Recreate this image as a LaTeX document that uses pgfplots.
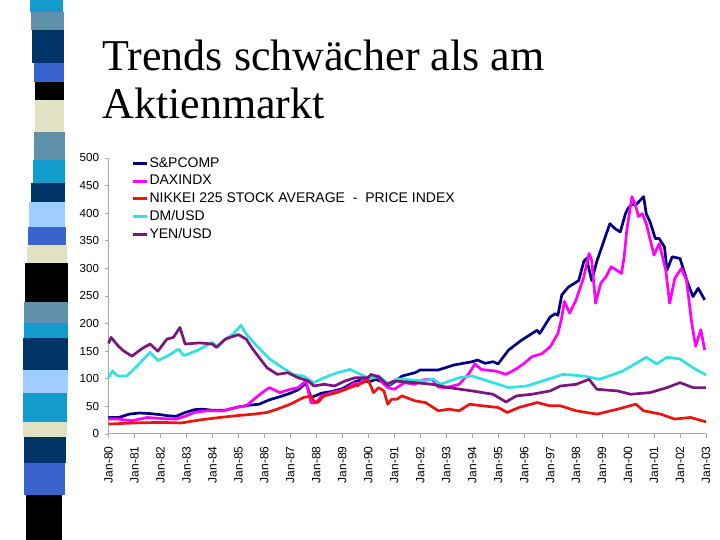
\documentclass[border=0pt]{standalone}
\usepackage{fontspec}
\setmainfont{Liberation Sans}
\newfontfamily\titlefont{Liberation Serif}
\usepackage{pgfplots}
\pgfplotsset{compat=1.18}
\definecolor{cSP}{RGB}{0,0,128}
\definecolor{cDAX}{RGB}{255,0,255}
\definecolor{cNIK}{RGB}{235,20,15}
\definecolor{cDM}{RGB}{50,225,225}
\definecolor{cYEN}{RGB}{125,20,125}
\definecolor{rA}{RGB}{20,155,205}
\definecolor{rB}{RGB}{95,145,170}
\definecolor{rC}{RGB}{0,52,102}
\definecolor{rD}{RGB}{58,100,205}
\definecolor{rE}{RGB}{225,225,195}
\definecolor{rF}{RGB}{160,205,255}
\definecolor{axgray}{RGB}{165,165,165}
\newcommand{\seg}[5]{\fill[#1] (#4*0.5pt,270pt-#2*0.5pt) rectangle (#5*0.5pt,270pt-#3*0.5pt);}
\begin{document}
\begin{tikzpicture}
\path[use as bounding box,fill=white] (0,0) rectangle (360pt,270pt);
% decorative ribbon
\seg{rA}{0}{12}{30}{63}
\seg{rB}{12}{30}{31}{64}
\seg{rC}{30}{63}{32}{64}
\seg{rD}{63}{82}{34}{64}
\seg{black}{82}{100}{35}{64}
\seg{rE}{100}{132}{35}{64}
\seg{rB}{132}{160}{34}{65}
\seg{rA}{160}{183}{33}{65}
\seg{rC}{183}{202}{31}{65}
\seg{rF}{202}{227}{29}{65}
\seg{rD}{227}{245}{28}{66}
\seg{rE}{245}{263}{27}{67}
\seg{black}{263}{302}{25}{68}
\seg{rB}{302}{323}{24}{68}
\seg{rA}{323}{338}{24}{68}
\seg{rC}{338}{370}{23}{68}
\seg{rF}{370}{393}{23}{68}
\seg{rA}{393}{422}{23}{67}
\seg{rE}{422}{437}{23}{67}
\seg{rC}{437}{463}{24}{66}
\seg{rD}{463}{495}{24}{65}
\seg{black}{495}{540}{26}{62}
% title
\node[anchor=base west,inner sep=0pt,font=\titlefont\fontsize{22}{24}\selectfont] at (51pt,234.5pt) {Trends schwächer als am};
\node[anchor=base west,inner sep=0pt,font=\titlefont\fontsize{22}{24}\selectfont] at (51pt,210.5pt) {Aktienmarkt};
\begin{axis}[
  at={(54.25pt,53pt)}, anchor=south west,
  scale only axis, width=298.75pt, height=138pt,
  xmin=1980, xmax=2003, ymin=0, ymax=500,
  axis x line=bottom, axis y line=left,
  axis line style={axgray,line width=0.5pt,-},
  tick style={axgray,line width=0.4pt},
  tick align=outside, major tick length=2pt,
  xtick={1980,1981,...,2003},
  xticklabels={Jan-80,Jan-81,Jan-82,Jan-83,Jan-84,Jan-85,Jan-86,Jan-87,Jan-88,Jan-89,Jan-90,Jan-91,Jan-92,Jan-93,Jan-94,Jan-95,Jan-96,Jan-97,Jan-98,Jan-99,Jan-00,Jan-01,Jan-02,Jan-03},
  ytick={0,50,...,500},
  /pgf/number format/assume math mode=true,
  xticklabel style={rotate=90,anchor=east,font=\fontsize{6}{6.5}\selectfont,inner sep=1pt,xshift=-3pt},
  yticklabel style={font=\fontsize{5.8}{6.5}\selectfont,inner sep=1pt,xshift=-1.5pt},
  clip=false,
  every axis plot/.append style={line width=1.35pt,line join=round},
  legend style={draw=none,fill=none,at={(0.038,1)},anchor=north west,yshift=2pt,
    font=\fontsize{7}{8}\selectfont,row sep=-0.6pt,inner sep=0pt,
    nodes={inner ysep=1.5pt,inner xsep=0.6pt},
    /tikz/every odd column/.append style={column sep=0pt}},
  legend cell align=left,
  legend image code/.code={\draw[#1,line width=1.35pt] (0pt,0pt) -- (7pt,0pt);},
]
\addplot[cSP] coordinates {
(1980.0,30)(1980.4,30)(1980.8,36)(1981.2,38)(1981.6,37)(1982.0,35)(1982.3,33)(1982.6,32)(1982.9,38)
(1983.3,44)(1983.6,45)(1984.0,43)(1984.5,43)(1985.0,49)(1985.4,52)(1985.8,54)(1986.2,62)(1986.7,69)
(1987.0,74)(1987.3,80)(1987.6,92)(1987.8,66)(1988.2,74)(1988.6,77)(1989.0,82)(1989.5,95)(1989.8,99)
(1990.0,94)(1990.3,99)(1990.6,93)(1990.8,88)(1991.0,94)(1991.3,105)(1991.8,111)(1992.0,116)(1992.7,116)
(1993.3,125)(1994.0,131)(1994.2,134)(1994.5,128)(1994.8,131)(1995.0,127)(1995.4,152)(1995.9,170)
(1996.3,182)(1996.5,188)(1996.6,182)(1997.0,212)(1997.2,218)(1997.3,215)(1997.45,252)(1997.7,266)
(1998.1,278)(1998.3,313)(1998.4,318)(1998.6,278)(1998.8,313)(1999.1,354)(1999.3,381)(1999.5,372)
(1999.7,366)(1999.9,399)(2000.0,409)(2000.15,416)(2000.3,415)(2000.6,430)(2000.7,399)(2000.85,384)
(2001.05,354)(2001.2,354)(2001.4,339)(2001.5,297)(2001.7,321)(2002.0,318)(2002.3,273)(2002.5,249)
(2002.7,264)(2002.95,243)};
\addlegendentry{S\&PCOMP}
\addplot[cDAX] coordinates {
(1980.0,27)(1980.4,27)(1980.9,24)(1981.5,30)(1982.0,28)(1982.6,27)(1983.0,33)(1983.3,39)(1983.8,42)
(1984.4,42)(1984.9,48)(1985.3,51)(1985.6,63)(1986.0,78)(1986.2,84)(1986.6,75)(1987.0,81)(1987.3,84)
(1987.6,96)(1987.8,56)(1988.0,57)(1988.2,69)(1988.6,75)(1989.1,81)(1989.5,93)(1989.6,87)(1989.8,99)
(1990.1,105)(1990.4,105)(1990.5,95)(1990.75,84)(1991.0,81)(1991.4,93)(1991.8,90)(1992.1,98)
(1992.45,99)(1992.7,85)(1993.0,84)(1993.5,90)(1993.9,111)(1994.1,127)(1994.35,117)(1994.9,114)
(1995.3,108)(1995.7,118)(1996.0,128)(1996.3,140)(1996.7,146)(1997.0,158)(1997.3,182)(1997.43,207)
(1997.55,240)(1997.75,219)(1998.0,243)(1998.3,285)(1998.5,327)(1998.6,315)(1998.75,237)(1998.95,273)
(1999.15,285)(1999.35,303)(1999.55,297)(1999.75,291)(1999.85,321)(1999.95,369)(2000.15,430)
(2000.3,412)(2000.4,394)(2000.55,399)(2000.7,381)(2001.0,324)(2001.2,345)(2001.45,297)(2001.6,237)
(2001.8,282)(2002.05,300)(2002.25,279)(2002.45,201)(2002.6,159)(2002.8,189)(2002.95,152)};
\addlegendentry{DAXINDX}
\addplot[cNIK] coordinates {
(1980.0,18)(1981.0,20)(1982.0,21)(1982.8,20)(1983.6,26)(1984.3,30)(1984.9,33)(1985.6,36)(1986.1,39)
(1986.5,45)(1987.0,54)(1987.5,66)(1987.8,69)(1987.9,60)(1988.05,57)(1988.3,69)(1988.8,75)(1989.3,84)
(1989.8,93)(1990.0,98)(1990.2,75)(1990.4,84)(1990.6,78)(1990.75,54)(1990.9,63)(1991.1,63)(1991.3,69)
(1991.8,60)(1992.2,57)(1992.7,42)(1993.1,45)(1993.5,42)(1993.9,54)(1994.4,51)(1995.0,48)(1995.35,39)
(1995.8,48)(1996.5,57)(1997.0,51)(1997.4,51)(1998.0,42)(1998.8,36)(1999.6,45)(2000.3,54)(2000.6,42)
(2001.25,36)(2001.8,27)(2002.4,30)(2003.0,22)};
\addlegendentry{NIKKEI 225 STOCK AVERAGE\ \ -\ \ PRICE INDEX}
\addplot[cDM] coordinates {
(1980.0,102)(1980.15,114)(1980.35,105)(1980.7,105)(1981.1,123)(1981.6,148)(1981.9,133)(1982.3,142)
(1982.7,154)(1982.9,142)(1983.4,151)(1984.0,166)(1984.2,157)(1984.5,172)(1984.8,181)(1985.1,197)
(1985.3,181)(1985.7,160)(1986.2,136)(1986.7,120)(1987.1,108)(1987.5,105)(1987.9,93)(1988.3,102)
(1988.8,111)(1989.3,117)(1989.7,108)(1990.0,102)(1990.45,103)(1990.8,90)(1991.1,100)(1991.4,99)
(1992.2,96)(1992.5,100)(1992.77,90)(1993.5,102)(1994.0,105)(1994.8,93)(1995.4,84)(1996.1,87)
(1996.7,96)(1997.5,108)(1998.3,105)(1998.9,99)(1999.8,114)(2000.7,139)(2001.1,127)(2001.5,139)
(2002.0,136)(2002.5,120)(2003.0,107)};
\addlegendentry{DM/USD}
\addplot[cYEN] coordinates {
(1980.0,164)(1980.1,175)(1980.4,158)(1980.6,150)(1980.9,141)(1981.3,155)(1981.6,163)(1981.9,150)
(1982.25,172)(1982.5,175)(1982.75,193)(1982.95,163)(1983.5,165)(1984.0,163)(1984.15,157)(1984.5,172)
(1985.0,180)(1985.3,172)(1985.55,154)(1986.1,120)(1986.5,108)(1986.9,111)(1987.3,102)(1987.7,96)
(1987.9,87)(1988.3,90)(1988.7,87)(1989.1,96)(1989.5,102)(1990.0,102)(1990.1,108)(1990.45,102)
(1990.7,90)(1991.0,96)(1991.8,93)(1992.45,90)(1993.1,84)(1994.0,78)(1994.8,72)(1995.3,58)(1995.7,69)
(1996.3,72)(1997.0,78)(1997.4,87)(1998.0,90)(1998.5,99)(1998.8,81)(1999.6,78)(2000.1,72)(2000.85,75)
(2001.5,84)(2002.0,93)(2002.5,84)(2003.0,84)};
\addlegendentry{YEN/USD}
\end{axis}
\end{tikzpicture}
\end{document}
